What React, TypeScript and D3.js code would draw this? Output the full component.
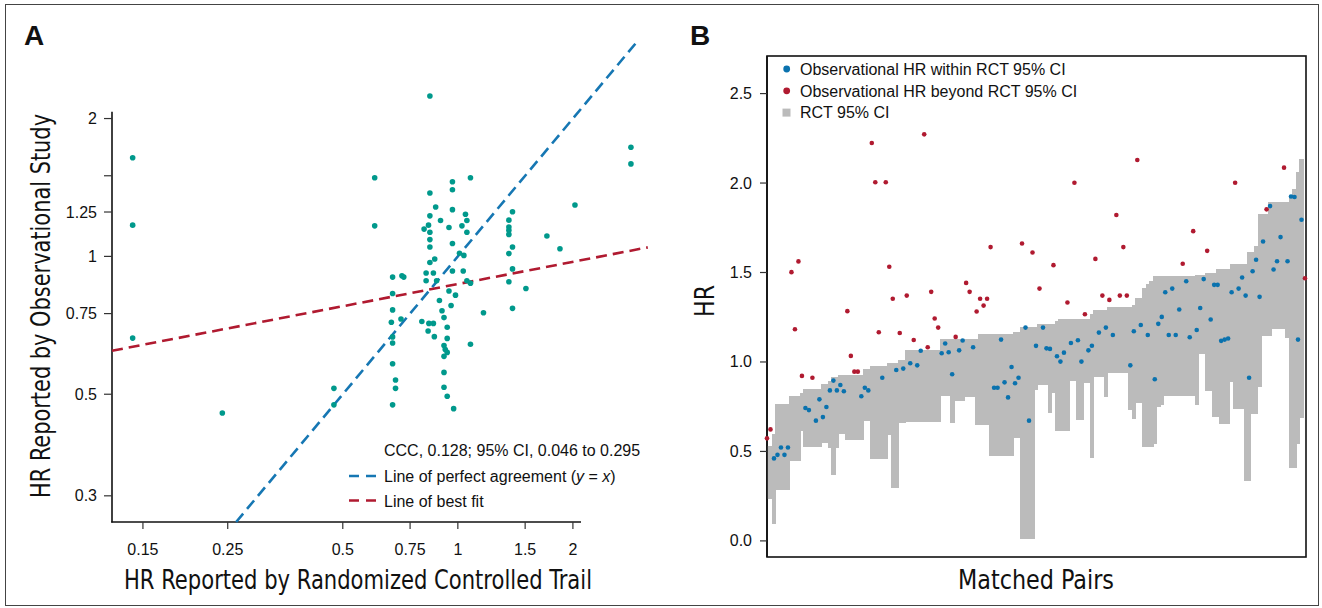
import React, { useEffect, useRef } from "react";
import * as d3 from "d3";

// ---- Panel A: HR reported by RCT (x) vs observational study (y)
const rctHR = [
  0.141, 0.141, 0.141, 0.242, 0.474, 0.474, 0.606, 0.606, 0.845, 2.837, 2.837, 2.025,
  1.71, 1.85, 1.507, 1.39, 1.39, 1.36, 1.36, 1.36, 1.36, 1.39, 1.36, 1.39, 1.36, 1.167,
  1.079, 0.968, 0.968, 0.845, 0.875, 0.968, 1.047, 1.056, 1.025, 1.056, 0.845, 0.901,
  0.948, 0.816, 0.838, 0.845, 0.845, 0.845, 0.968, 1.01, 1.037, 0.845, 0.87, 0.826,
  0.863, 0.968, 1.033, 0.826, 0.88, 1.056, 0.675, 0.714, 0.722, 1.079, 0.675, 0.948,
  0.986, 0.895, 0.96, 0.909, 0.92, 0.675, 0.67, 0.71, 0.805, 0.84, 0.863, 0.836, 0.868,
  0.938, 0.938, 0.92, 0.927, 0.938, 0.92, 1.079, 0.675, 0.675, 0.675, 0.687, 0.687,
  0.675, 0.92, 0.92, 0.938, 0.975,
];
const obsHR = [
  1.642, 1.17, 0.663, 0.455, 0.515, 0.474, 1.485, 1.166, 2.24, 1.731, 1.592, 1.295,
  1.108, 1.039, 0.851, 0.77, 1.252, 1.2, 1.159, 1.14, 1.117, 1.048, 1.014, 0.939, 0.88,
  0.753, 1.485, 1.455, 1.398, 1.375, 1.282, 1.265, 1.236, 1.198, 1.166, 1.129, 1.226,
  1.198, 1.156, 1.147, 1.17, 1.129, 1.088, 1.048, 1.067, 1.016, 1.005, 0.97, 0.987,
  0.92, 0.92, 0.929, 0.929, 0.885, 0.885, 0.885, 0.901, 0.907, 0.901, 0.874, 0.83,
  0.84, 0.823, 0.801, 0.781, 0.761, 0.735, 0.764, 0.718, 0.73, 0.721, 0.714, 0.714,
  0.687, 0.668, 0.7, 0.662, 0.639, 0.626, 0.617, 0.605, 0.643, 0.667, 0.647, 0.583,
  0.537, 0.515, 0.474, 0.558, 0.518, 0.495, 0.465,
];
const xTicksA = [0.15, 0.25, 0.5, 0.75, 1, 1.5, 2];
const yTicksA = [0.3, 0.5, 0.75, 1, 1.25, 1.5, 2];
const yTickLabelsA = ["0.3", "0.5", "0.75", "1", "1.25", "", "2"];
// best-fit line in log-log space: ln(y) = a + b ln(x)
const fitIntercept = -0.139;
const fitSlope = 0.161;

// ---- Panel B: matched pairs, RCT 95% CI and observational HR
const ciLower = [
  0.233, 0.233, 0.097, 0.285, 0.285, 0.285, 0.285, 0.447, 0.447, 0.447, 0.614, 0.526,
  0.526, 0.526, 0.526, 0.526, 0.545, 0.545, 0.52, 0.367, 0.52, 0.6, 0.6, 0.563, 0.563,
  0.563, 0.563, 0.563, 0.671, 0.671, 0.459, 0.459, 0.459, 0.459, 0.459, 0.59, 0.295,
  0.295, 0.66, 0.66, 0.666, 0.666, 0.666, 0.666, 0.666, 0.666, 0.666, 0.666, 0.666,
  0.666, 0.81, 0.81, 0.81, 0.657, 0.784, 0.784, 0.784, 0.806, 0.806, 0.806, 0.647,
  0.647, 0.647, 0.647, 0.475, 0.475, 0.475, 0.475, 0.475, 0.475, 0.475, 0.576, 0.576,
  0.013, 0.013, 0.013, 0.013, 0.843, 0.871, 0.871, 0.871, 0.716, 0.825, 0.616, 0.616,
  0.616, 0.616, 0.896, 0.896, 0.675, 0.675, 0.881, 0.881, 0.466, 0.914, 0.914, 0.914,
  0.802, 0.94, 0.94, 0.94, 0.94, 0.94, 0.94, 0.731, 0.679, 0.772, 0.772, 0.522, 0.522,
  0.522, 0.541, 0.75, 0.759, 0.81, 0.81, 0.81, 0.81, 0.81, 0.81, 0.81, 0.81, 0.81,
  0.759, 1.045, 1.045, 0.84, 0.84, 0.694, 0.694, 0.651, 0.651, 0.651, 0.886, 0.737,
  0.737, 0.737, 0.336, 0.336, 0.707, 0.707, 0.858, 1.146, 1.146, 1.146, 1.185, 1.185,
  1.185, 1.185, 1.132, 0.405, 0.405, 0.539, 0.685, 0.685,
];
const ciUpper = [
  0.53, 0.53, 0.597, 0.767, 0.767, 0.767, 0.767, 0.808, 0.808, 0.808, 0.826, 0.847,
  0.847, 0.847, 0.847, 0.847, 0.877, 0.877, 0.896, 0.914, 0.914, 0.925, 0.925, 0.925,
  0.925, 0.925, 0.925, 0.925, 0.959, 0.959, 0.978, 0.978, 0.978, 0.978, 0.978, 0.996,
  0.996, 0.996, 1.011, 1.011, 1.067, 1.067, 1.067, 1.067, 1.067, 1.067, 1.067, 1.067,
  1.067, 1.067, 1.128, 1.128, 1.128, 1.128, 1.128, 1.128, 1.128, 1.128, 1.128, 1.128,
  1.128, 1.157, 1.157, 1.157, 1.157, 1.157, 1.157, 1.157, 1.157, 1.157, 1.157, 1.168,
  1.168, 1.196, 1.196, 1.196, 1.196, 1.196, 1.213, 1.213, 1.213, 1.213, 1.213, 1.228,
  1.239, 1.239, 1.239, 1.239, 1.239, 1.239, 1.239, 1.239, 1.239, 1.267, 1.289, 1.289,
  1.289, 1.289, 1.306, 1.306, 1.306, 1.306, 1.306, 1.306, 1.306, 1.319, 1.356, 1.356,
  1.412, 1.435, 1.45, 1.478, 1.478, 1.478, 1.478, 1.478, 1.478, 1.478, 1.478, 1.478,
  1.478, 1.478, 1.478, 1.487, 1.487, 1.487, 1.5, 1.5, 1.5, 1.522, 1.522, 1.522, 1.522,
  1.549, 1.549, 1.549, 1.549, 1.549, 1.616, 1.616, 1.646, 1.826, 1.826, 1.826, 1.894,
  1.894, 1.894, 1.894, 1.894, 1.894, 1.935, 1.966, 2.06, 2.134,
];
const obsPair = [
  0.573, 0.623, 0.461, 0.481, 0.522, 0.481, 0.522, 1.502, 1.183, 1.562, 0.922, 0.743,
  0.731, 0.912, 0.672, 0.791, 0.692, 0.748, 0.841, 0.896, 0.841, 0.871, 0.836, 1.284,
  1.034, 0.946, 0.946, 0.808, 0.856, 0.841, 2.224, 2.004, 1.166, 0.912, 2.004, 1.532,
  1.353, 0.955, 1.162, 0.963, 1.371, 0.993, 1.123, 0.981, 1.063, 2.272, 1.082, 1.392,
  1.243, 1.192, 1.049, 1.103, 1.054, 0.931, 1.14, 1.065, 1.12, 1.442, 1.392, 1.082,
  1.282, 1.353, 1.315, 1.353, 1.642, 0.856, 0.856, 1.125, 0.886, 0.802, 0.972, 0.881,
  0.912, 1.662, 1.192, 0.672, 1.612, 1.09, 1.41, 1.192, 1.076, 1.073, 1.541, 1.032,
  1.002, 1.052, 1.332, 1.106, 2.002, 1.121, 1.002, 1.267, 1.065, 1.091, 1.576, 1.164,
  1.371, 1.192, 1.347, 1.151, 1.821, 1.371, 1.642, 1.371, 0.981, 1.172, 2.129, 1.207,
  null, 1.151, null, 0.903, 1.213, 1.252, 1.39, 1.151, 1.41, 1.151, 1.293, 1.549,
  1.451, 1.138, 1.731, 1.179, 1.302, 1.463, 1.621, 1.237, 1.431, 1.431, 1.118, 1.125,
  1.131, 1.39, 2.002, 1.41, 1.472, 1.371, 0.912, 1.507, 1.571, 1.364, 1.673, 1.853,
  1.871, 1.517, 1.563, 1.698, 2.086, 1.563, 1.925, 1.922, 1.125, 1.795, 1.468,
];
const yTicksB = [0, 0.5, 1, 1.5, 2, 2.5];

const FONT = "'Liberation Sans', Arial, Helvetica, sans-serif";
const COND = "'Liberation Sans Narrow', 'Arial Narrow', 'DejaVu Sans Condensed', sans-serif";
const TEAL = "#00998c";
const BLUE = "#0a72ae";
const RED = "#b01a30";
const GRAY = "#bbbbbb";

const App = () => {
  const ref = useRef(null);

  useEffect(() => {
    const svg = d3.select(ref.current);
    svg.selectAll("*").remove();

    // outer figure border
    svg.append("rect")
      .attr("x", 5.5).attr("y", 4.5).attr("width", 1313).attr("height", 601)
      .attr("fill", "none").attr("stroke", "#444").attr("stroke-width", 1);

    // ================= Panel A =================
    const x = d3.scaleLog().domain([0.1245, 2.1]).range([112, 581]);
    const y = d3.scaleLog().domain([0.263, 2.07]).range([522, 111.7]);

    const gA = svg.append("g");

    // axes
    gA.append("line").attr("x1", 112).attr("x2", 112).attr("y1", 111.7).attr("y2", 522.5)
      .attr("stroke", "#111").attr("stroke-width", 1.6);
    gA.append("line").attr("x1", 111.2).attr("x2", 581).attr("y1", 522).attr("y2", 522)
      .attr("stroke", "#111").attr("stroke-width", 1.6);

    xTicksA.forEach((t) => {
      gA.append("line").attr("x1", x(t)).attr("x2", x(t)).attr("y1", 522).attr("y2", 529)
        .attr("stroke", "#333").attr("stroke-width", 1.2);
      gA.append("text").attr("x", x(t)).attr("y", 555).attr("text-anchor", "middle")
        .attr("font-family", FONT).attr("font-size", 16).attr("fill", "#111").text(String(t));
    });
    yTicksA.forEach((t, i) => {
      gA.append("line").attr("x1", 104).attr("x2", 112).attr("y1", y(t)).attr("y2", y(t))
        .attr("stroke", "#333").attr("stroke-width", 1.2);
      gA.append("text").attr("x", 97).attr("y", y(t) + 5.5).attr("text-anchor", "end")
        .attr("font-family", FONT).attr("font-size", 16).attr("fill", "#111").text(yTickLabelsA[i]);
    });

    // reference lines
    gA.append("line")
      .attr("x1", x(0.263)).attr("y1", y(0.263)).attr("x2", x(2.95)).attr("y2", y(2.95))
      .attr("stroke", "#1677b3").attr("stroke-width", 2.6).attr("stroke-dasharray", "11,6");
    const fit = (v) => Math.exp(fitIntercept + fitSlope * Math.log(v));
    gA.append("line")
      .attr("x1", x(0.1245)).attr("y1", y(fit(0.1245))).attr("x2", x(3.14)).attr("y2", y(fit(3.14)))
      .attr("stroke", RED).attr("stroke-width", 2.6).attr("stroke-dasharray", "11,6");

    gA.selectAll("circle.pt")
      .data(rctHR.map((v, i) => [v, obsHR[i]]))
      .enter().append("circle").attr("class", "pt")
      .attr("cx", (d) => x(d[0])).attr("cy", (d) => y(d[1])).attr("r", 2.8)
      .attr("fill", TEAL);

    // legend A
    gA.append("text").attr("x", 384).attr("y", 456).attr("font-family", FONT)
      .attr("font-size", 16).attr("fill", "#111").text("CCC, 0.128; 95% CI, 0.046 to 0.295");
    const l2 = gA.append("text").attr("x", 384).attr("y", 481.5).attr("font-family", FONT)
      .attr("font-size", 16).attr("fill", "#111");
    l2.append("tspan").text("Line of perfect agreement (");
    l2.append("tspan").attr("font-style", "italic").text("y");
    l2.append("tspan").text(" = ");
    l2.append("tspan").attr("font-style", "italic").text("x");
    l2.append("tspan").text(")");
    gA.append("text").attr("x", 384).attr("y", 506.5).attr("font-family", FONT)
      .attr("font-size", 16).attr("fill", "#111").text("Line of best fit");
    gA.append("line").attr("x1", 349).attr("x2", 377).attr("y1", 476).attr("y2", 476)
      .attr("stroke", "#1677b3").attr("stroke-width", 2.6).attr("stroke-dasharray", "10,7");
    gA.append("line").attr("x1", 349).attr("x2", 377).attr("y1", 500.5).attr("y2", 500.5)
      .attr("stroke", RED).attr("stroke-width", 2.6).attr("stroke-dasharray", "10,7");

    // titles A
    gA.append("text").attr("x", 358).attr("y", 589).attr("text-anchor", "middle")
      .attr("font-family", COND).attr("font-size", 26).attr("fill", "#111")
      .attr("textLength", 468).attr("lengthAdjust", "spacingAndGlyphs")
      .text("HR Reported by Randomized Controlled Trail");
    gA.append("text").attr("transform", "translate(50,306) rotate(-90)")
      .attr("text-anchor", "middle").attr("font-family", COND).attr("font-size", 26)
      .attr("fill", "#111").attr("textLength", 384).attr("lengthAdjust", "spacingAndGlyphs")
      .text("HR Reported by Observational Study");
    gA.append("text").attr("x", 24).attr("y", 45).attr("font-family", FONT)
      .attr("font-weight", "bold").attr("font-size", 28).attr("fill", "#111").text("A");

    // ================= Panel B =================
    const n = obsPair.length;
    const xb = d3.scaleLinear().domain([0, n - 1]).range([767, 1305]);
    const yb = d3.scaleLinear().domain([-0.09, 2.71]).range([557, 56]);
    const left = 767, right = 1306, top = 56, bottom = 557;
    const gB = svg.append("g");

    gB.append("rect").attr("x", left).attr("y", top).attr("width", right - left)
      .attr("height", bottom - top).attr("fill", "none").attr("stroke", "#111").attr("stroke-width", 1.6);

    // CI bars: one rect per pair, slightly overlapping so no seams show
    const step = xb(1) - xb(0);
    gB.append("g").attr("shape-rendering", "crispEdges")
      .selectAll("rect.ci")
      .data(ciLower.map((lo, i) => ({ i, lo, hi: ciUpper[i] })))
      .enter().append("rect").attr("class", "ci")
      .attr("x", (d) => Math.max(left, xb(d.i) - step / 2 - 0.3))
      .attr("width", (d) => Math.min(right + 0.8, xb(d.i) + step / 2 + 0.6) - Math.max(left, xb(d.i) - step / 2 - 0.3))
      .attr("y", (d) => yb(d.hi))
      .attr("height", (d) => yb(d.lo) - yb(d.hi))
      .attr("fill", GRAY);

    // left axis on top of bars
    gB.append("line").attr("x1", left).attr("x2", left).attr("y1", top).attr("y2", bottom)
      .attr("stroke", "#111").attr("stroke-width", 1.6);
    yTicksB.forEach((t) => {
      gB.append("line").attr("x1", 760).attr("x2", left).attr("y1", yb(t)).attr("y2", yb(t))
        .attr("stroke", "#333").attr("stroke-width", 1.2);
      gB.append("text").attr("x", 752).attr("y", yb(t) + 5.5).attr("text-anchor", "end")
        .attr("font-family", FONT).attr("font-size", 16).attr("fill", "#111").text(t.toFixed(1));
    });

    gB.selectAll("circle.obs")
      .data(obsPair.map((v, i) => ({ i, v })).filter((d) => d.v !== null))
      .enter().append("circle").attr("class", "obs")
      .attr("cx", (d) => xb(d.i)).attr("cy", (d) => yb(d.v)).attr("r", 2.3)
      .attr("fill", (d) => (d.v >= ciLower[d.i] && d.v <= ciUpper[d.i] ? BLUE : RED));

    // legend B
    const legend = [
      { label: "Observational HR within RCT 95% CI", kind: "dot", color: BLUE },
      { label: "Observational HR beyond RCT 95% CI", kind: "dot", color: RED },
      { label: "RCT 95% CI", kind: "sq", color: GRAY },
    ];
    legend.forEach((d, i) => {
      const cy = 69 + i * 21.8;
      if (d.kind === "dot") {
        gB.append("circle").attr("cx", 786.7).attr("cy", cy).attr("r", 3.4).attr("fill", d.color);
      } else {
        gB.append("rect").attr("x", 782.5).attr("y", cy - 4).attr("width", 8).attr("height", 8)
          .attr("fill", d.color);
      }
      gB.append("text").attr("x", 800).attr("y", cy + 5.8).attr("font-family", FONT)
        .attr("font-size", 16).attr("fill", "#111").text(d.label);
    });

    gB.append("text").attr("x", 1036).attr("y", 589).attr("text-anchor", "middle")
      .attr("font-family", COND).attr("font-size", 26).attr("fill", "#111")
      .attr("textLength", 156).attr("lengthAdjust", "spacingAndGlyphs").text("Matched Pairs");
    gB.append("text").attr("transform", "translate(714,301) rotate(-90)")
      .attr("text-anchor", "middle").attr("font-family", COND).attr("font-size", 26)
      .attr("fill", "#111").attr("textLength", 32).attr("lengthAdjust", "spacingAndGlyphs").text("HR");
    gB.append("text").attr("x", 690).attr("y", 45).attr("font-family", FONT)
      .attr("font-weight", "bold").attr("font-size", 28).attr("fill", "#111").text("B");
  }, []);

  return (
    <svg
      ref={ref}
      width={1322}
      height={608}
      style={{ position: "absolute", left: 0, top: 0, background: "#fff" }}
    />
  );
};

export default App;
